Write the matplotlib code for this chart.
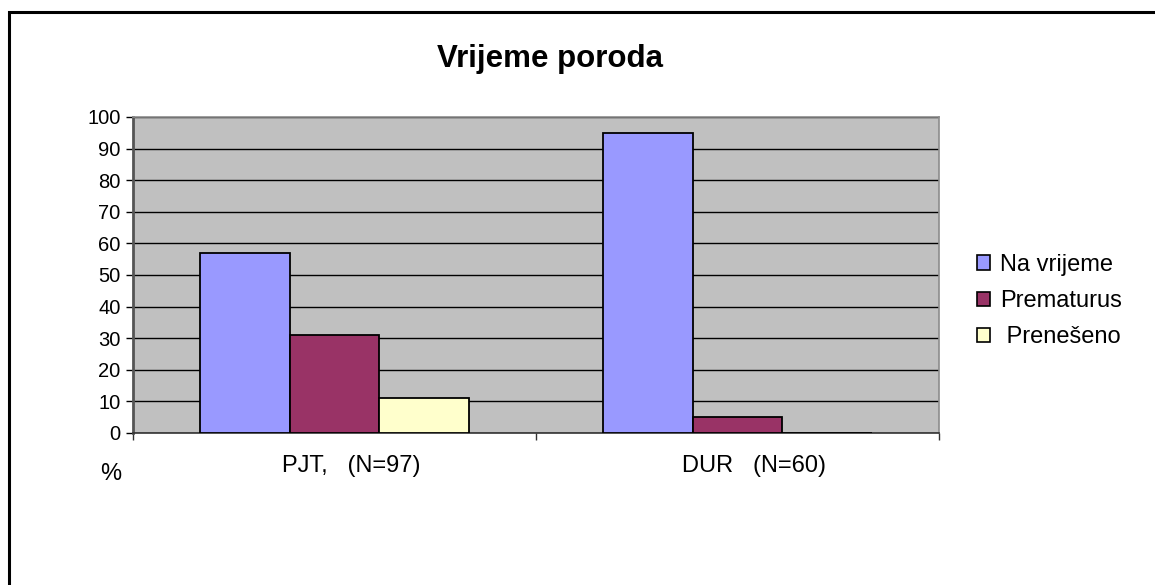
import numpy as np
import matplotlib
matplotlib.use("Agg")
import matplotlib.pyplot as plt
from matplotlib.patches import Patch, Rectangle

# ========================
# DADOS
# ========================
grupe = ["PJT,   (N=97)", "DUR   (N=60)"]
serije = ["Na vrijeme", "Prematurus", "Prenešeno"]
na_vrijeme = [57, 95]
prematurus = [31, 5]
preneseno = [11, 0]
vrijednosti = [na_vrijeme, prematurus, preneseno]

boje = ["#9999FF", "#993366", "#FFFFCC"]

plt.rcParams.update({
    "font.family": ["Liberation Sans", "DejaVu Sans"],
})

W, H = 1155, 585
fig = plt.figure(figsize=(W / 100, H / 100), dpi=100)
ax = fig.add_axes([133 / W, 1 - 433 / H, (939 - 133) / W, (433 - 117) / H])
ax.set_facecolor("#C0C0C0")

x = np.arange(len(grupe))
width = 0.2233
offsets = [-width, 0, width]

ax.set_axisbelow(True)
ax.yaxis.grid(True, color="black", linewidth=1.0)
for i, (serija, vals) in enumerate(zip(serije, vrijednosti)):
    ax.bar(x + offsets[i], vals, width=width, color=boje[i],
           edgecolor="black", linewidth=1.3, label=serija, zorder=3)

ax.set_xlim(-0.5, len(grupe) - 0.5)
ax.set_ylim(0, 100)
ax.set_yticks(np.arange(0, 101, 10))
ax.tick_params(axis="y", labelsize=14.5, length=5, width=1, direction="out", pad=4)

# crtice na x osi na granicama kategorija
ax.set_xticks(np.arange(-0.5, len(grupe), 1.0))
ax.set_xticklabels([])
ax.tick_params(axis="x", length=5, width=1, direction="out", color="#333333")

for xi, lab in zip(x, grupe):
    ax.text(xi + 0.042, -10.3, lab, ha="center", va="center", fontsize=17)
fig.text(111 / W, 1 - 474 / H, "%", ha="center", va="center", fontsize=17)

for side in ["top", "right"]:
    ax.spines[side].set_color("#8C8C8C")
    ax.spines[side].set_linewidth(1.2)
ax.spines["left"].set_color("#555555")
ax.spines["left"].set_linewidth(2)
ax.spines["bottom"].set_color("#333333")
ax.spines["bottom"].set_linewidth(1.2)

fig.text(550 / W, 1 - 59 / H, "Vrijeme poroda", ha="center", va="center",
         fontsize=22.5, fontweight="bold")

handles = [Patch(facecolor=c, edgecolor="black", linewidth=1.2) for c in boje]
labels = ["Na vrijeme", "Prematurus", " Prenešeno"]
fig.legend(handles, labels, loc="center left", bbox_to_anchor=(965 / W, 1 - 301 / H),
           frameon=False, fontsize=17, handlelength=0.55, handleheight=0.55,
           handletextpad=0.45, labelspacing=0.6, borderpad=0)

# okvir slike (vidljivi samo gornji i lijevi rub)
fig.patches.append(Rectangle((9 / W, -0.2), 2, 1.2 - 11.5 / H, transform=fig.transFigure,
                             fill=False, edgecolor="black", linewidth=2.2))

fig.savefig("out.png", dpi=100)
